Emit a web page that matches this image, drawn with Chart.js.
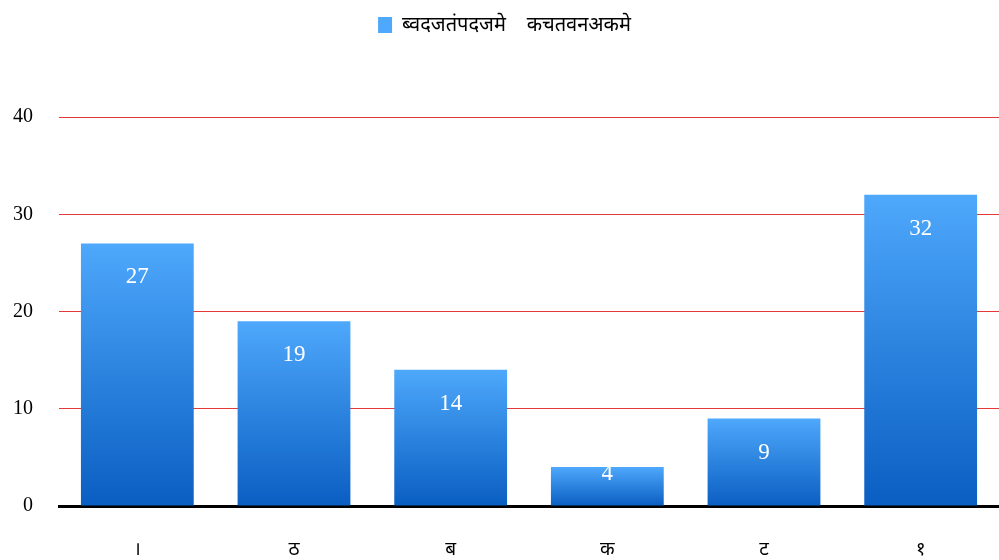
<!DOCTYPE html>
<html>
<head>
<meta charset="utf-8">
<script src="https://cdn.jsdelivr.net/npm/chart.js@4"></script>
<style>
  html, body { margin: 0; padding: 0; background: #fff; }
  #wrap { width: 999px; height: 560px; }
</style>
</head>
<body>
<div id="wrap"><canvas id="barChart"></canvas></div>
<script>
const categories = ['।', 'ठ', 'ब', 'क', 'ट', '१'];
const seriesName = 'ब्वदजतंपदजमे    कचतवनअकमे';
const seriesValues = [27, 19, 14, 4, 9, 32];
const yTicks = [0, 10, 20, 30, 40];

const serif = '"Liberation Serif", "Times New Roman", serif';
const deva = '"Noto Sans", "Noto Sans Devanagari", "Lohit Devanagari", sans-serif';

// vertical blue gradient spanning one bar
function barGradient(ctx, top, bottom) {
    if (!isFinite(top) || !isFinite(bottom) || top === bottom) {
        top = 14;
        bottom = 32;
    }
    const g = ctx.createLinearGradient(0, top, 0, bottom);
    g.addColorStop(0, '#4ea8fb');
    g.addColorStop(1, '#0a5ec2');
    return g;
}

// value labels inside each bar, near its top
const valueLabels = {
    id: 'valueLabels',
    afterDatasetsDraw(chart) {
        const ctx = chart.ctx;
        const meta = chart.getDatasetMeta(0);
        ctx.save();
        ctx.fillStyle = '#ffffff';
        ctx.font = '23px ' + serif;
        ctx.textAlign = 'center';
        ctx.textBaseline = 'middle';
        meta.data.forEach((bar, i) => {
            const h = bar.base - bar.y;
            const off = Math.min(34, h - 32);
            ctx.fillText(String(seriesValues[i]), bar.x, bar.y + off);
        });
        ctx.restore();
    }
};

// leave a taller gap between the legend and the plot
const legendGap = {
    id: 'legendGap',
    beforeInit(chart) {
        const fit = chart.legend.fit;
        chart.legend.fit = function () {
            fit.call(this);
            this.height = 111;
        };
    }
};

const ctx = document.getElementById('barChart').getContext('2d');
const chart = new Chart(ctx, {
    type: 'bar',
    data: {
        labels: categories,
        datasets: [{
            label: seriesName,
            data: seriesValues,
            backgroundColor(c) {
                const chart = c.chart;
                const y = chart.scales.y;
                if (!y || c.type !== 'data' || !c.parsed) {
                    return barGradient(chart.ctx, 14, 32);
                }
                return barGradient(chart.ctx, y.getPixelForValue(c.parsed.y), y.getPixelForValue(0));
            },
            borderWidth: 0,
            barPercentage: 0.72,
            categoryPercentage: 1.0
        }]
    },
    options: {
        responsive: true,
        maintainAspectRatio: false,
        animation: false,
        layout: { padding: { top: 6, left: 10, right: 0, bottom: 0 } },
        plugins: {
            legend: {
                position: 'top',
                labels: {
                    boxWidth: 14,
                    boxHeight: 16,
                    color: '#000',
                    font: { family: deva, size: 20 },
                    padding: 9
                }
            },
            tooltip: { enabled: false }
        },
        scales: {
            x: {
                afterFit(axis) { axis.height = 54; },
                grid: { display: false },
                border: { color: '#000', width: 3 },
                ticks: {
                    color: '#000',
                    font: { family: deva, size: 19 },
                    padding: 24
                }
            },
            y: {
                min: 0,
                max: 40,
                afterFit(axis) { axis.width = 49; },
                afterBuildTicks(axis) {
                    axis.ticks = yTicks.map(v => ({ value: v }));
                },
                border: { display: false },
                grid: {
                    color: 'rgba(225, 35, 35, 0.9)',
                    lineWidth: 1,
                    drawTicks: false
                },
                ticks: {
                    color: '#000',
                    font: { family: serif, size: 20 },
                    padding: 26
                }
            }
        }
    },
    plugins: [valueLabels, legendGap]
});
</script>
</body>
</html>
